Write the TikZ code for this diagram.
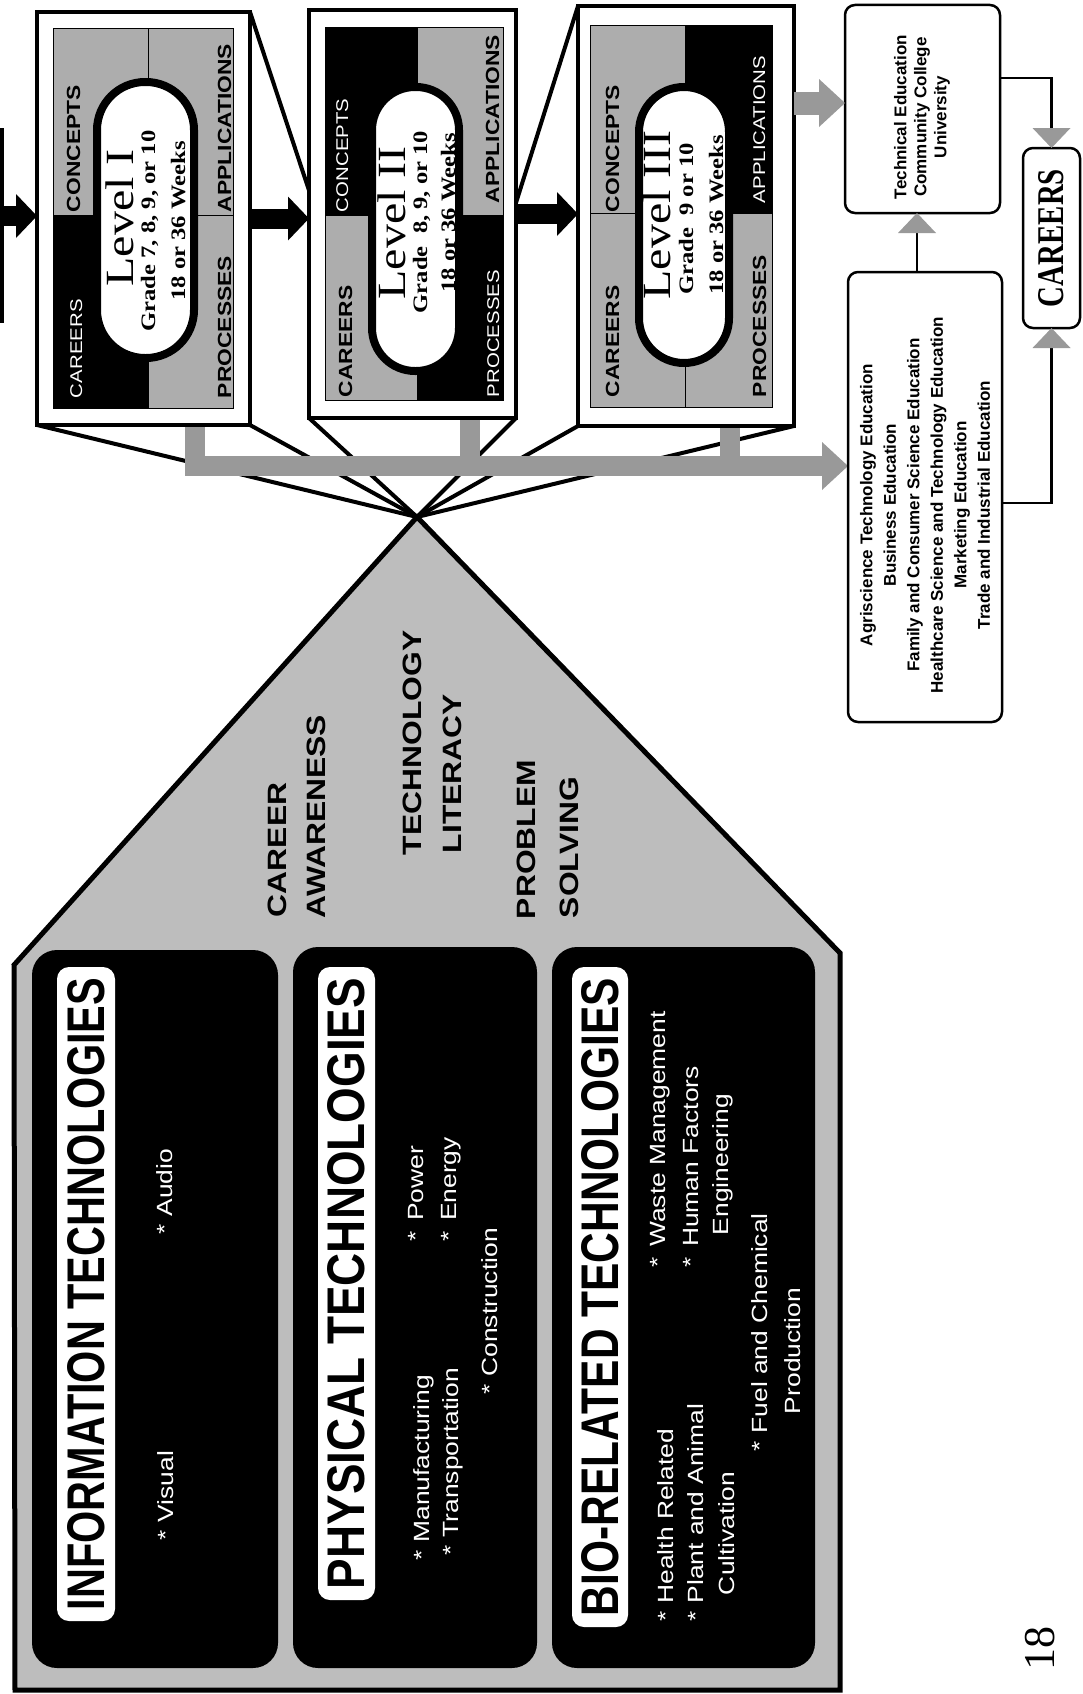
\documentclass[tikz,border=0pt]{standalone}
\usepackage{fontspec}
\usepackage{graphicx}
\usetikzlibrary{arrows.meta,calc}
\pgfdeclarelayer{pentlayer}
\pgfdeclarelayer{linelayer}
\pgfdeclarelayer{striplayer}
\pgfsetlayers{pentlayer,linelayer,striplayer,main}
\newfontfamily\hv[FakeStretch=1.2]{Liberation Sans}
\newfontfamily\tm[FakeStretch=1.2]{Liberation Serif}
\newfontfamily\hvp{Liberation Sans}
\newfontfamily\tmp{Liberation Serif}
\definecolor{pentgray}{gray}{0.74}
\definecolor{quadgray}{gray}{0.68}
\definecolor{stripgray}{gray}{0.6}

\begin{document}
\begin{tikzpicture}[x=1pt,y=-1pt,
  frame/.style={draw, line width=4.5pt, fill=white, inner sep=0pt, outer sep=0pt},
  persp/.style={line width=4pt},
  quadg/.style={fill=quadgray, draw=black, line width=0.8pt},
  quadb/.style={fill=black, draw=black, line width=0.8pt},
  pill/.style={draw=black, fill=white, line width=8pt},
  vtxt/.style={rotate=90, inner sep=0pt, outer sep=0pt},
  qbold/.style={vtxt, anchor=base west, font=\hv\bfseries\fontsize{19}{19}\selectfont},
  qreg/.style={vtxt, anchor=base west, text=white, font=\hv\fontsize{17}{17}\selectfont},
  lvl/.style={vtxt, anchor=base, font=\tm\fontsize{40}{40}\selectfont},
  lvlsub/.style={vtxt, anchor=base, font=\tm\bfseries\fontsize{20.5}{20.5}\selectfont},
  bigarrow/.style={line width=20pt, -{Triangle[width=44pt,length=21pt,line width=0pt]}},
  stripline/.style={draw=stripgray, line width=20pt},
  greyarrow/.style={draw=stripgray, -{Triangle[width=48pt,length=26pt,line width=0pt,color=stripgray]}},
  conn/.style={line width=2.2pt, -{Triangle[width=38pt,length=20pt,line width=0pt,color=stripgray]}},
  rbox/.style={draw, line width=2.5pt, rounded corners=10pt, fill=white, inner sep=0pt, outer sep=0pt},
  item/.style={vtxt, anchor=base west, text=white, font=\hv\fontsize{22}{22}\selectfont},
  theme/.style={vtxt, anchor=base west, font=\hv\bfseries\fontsize{26.5}{26.5}\selectfont},
  sidetxt/.style={vtxt, align=center, font=\hvp\bfseries\fontsize{17}{20}\selectfont},
]
\useasboundingbox (0,0) rectangle (1083,1694);
\coordinate (apex) at (417,517);

% ---------- the three course levels ----------
\node[frame, minimum width=213pt, minimum height=413pt] (L1) at (143.5,218.5) {};
\node[frame, minimum width=207pt, minimum height=408pt] (L2) at (412.5,214) {};
\node[frame, minimum width=216pt, minimum height=420pt] (L3) at (686,216) {};

% ---------- follow-on boxes ----------
\node[rbox, minimum width=155pt, minimum height=208pt] (tech) at (922.5,109) {};
\node[rbox, minimum width=154pt, minimum height=450pt] (agri) at (925,497) {};
\node[rbox, minimum width=57pt, minimum height=180pt] (car) at (1051.5,238) {};

% ---------- base shape ----------
\begin{pgfonlayer}{pentlayer}
  \fill[white] (0,0) rectangle (1083,1694);
  \filldraw[fill=pentgray, line width=5pt, line join=miter]
    (apex) -- (840,953) -- (840,1690) -- (15,1690) -- (14,965) -- cycle;
\end{pgfonlayer}

% ---------- perspective lines to the apex ----------
\begin{pgfonlayer}{linelayer}
  \draw[persp] (L1.south west) -- (apex);
  \draw[persp] (L1.south east) -- (apex);
  \draw[persp] (L1.north east) -- ($(L1.north east)!0.353!(apex)$);
  \draw[persp] (L2.south west) -- (apex);
  \draw[persp] (L2.south east) -- (apex);
  \draw[persp] (L3.south west) -- (apex);
  \draw[persp] (L3.south east) -- (apex);
  \draw[persp] (L3.north west) -- ($(L3.north west)!0.385!(apex)$);
\end{pgfonlayer}

% ---------- collecting band ----------
\begin{pgfonlayer}{striplayer}
  \coordinate (sj) at (185,466);
  \draw[stripline] ([xshift=51.5pt]L1.south) -- ++(0,51);
  \draw[stripline] ([xshift=57.5pt]L2.south) -- ++(0,58);
  \draw[stripline] ([xshift=44pt]L3.south) -- ++(0,50);
  \draw[greyarrow, line width=20pt] (sj) -- (sj -| agri.west);
\end{pgfonlayer}

% ---------- Level I ----------
\filldraw[quadg] (53,28) rectangle (148,215);
\filldraw[quadb] (53,215) rectangle (148,408);
\filldraw[quadg] (148,28) rectangle (233,215);
\filldraw[quadg] (148,215) rectangle (233,408);
\draw[pill, rounded corners=48pt] (97,82) rectangle (194,358);
\node[lvl] (l1a) at (133,218) {Level I};
\node[lvlsub] (l1b) at (155,231) {Grade 7, 8, 9, or 10};
\node[lvlsub] (l1c) at (185,221) {18 or 36 Weeks};
\node[qbold] (l1con) at (80,212) {CONCEPTS};
\node[qreg] (l1car) at (82,398) {CAREERS};
\node[qbold] (l1app) at (231,212) {APPLICATIONS};
\node[qbold] (l1pro) at (231,398) {PROCESSES};

% ---------- Level II ----------
\filldraw[quadb] (325,27) rectangle (417,215);
\filldraw[quadg] (325,215) rectangle (417,400);
\filldraw[quadg] (417,27) rectangle (503,215);
\filldraw[quadb] (417,215) rectangle (503,400);
\draw[pill, rounded corners=43pt] (372,87) rectangle (459,371);
\node[lvl] (l2a) at (405,223) {Level II};
\node[lvlsub] (l2b) at (427,222) {Grade~ 8, 9, or 10};
\node[lvlsub] (l2c) at (455,213) {18 or 36 Weeks};
\node[qreg] (l2con) at (348,212) {CONCEPTS};
\node[qbold] (l2car) at (352,397) {CAREERS};
\node[qbold] (l2app) at (499,203) {APPLICATIONS};
\node[qreg] (l2pro) at (499,397) {PROCESSES};

% ---------- Level III ----------
\filldraw[quadg] (590,25) rectangle (685,213);
\filldraw[quadg] (590,213) rectangle (685,407);
\filldraw[quadb] (685,25) rectangle (772,213);
\filldraw[quadg] (685,213) rectangle (772,407);
\draw[pill, rounded corners=45pt] (639,87) rectangle (729,363);
\node[lvl] (l3a) at (670,215) {Level III};
\node[lvlsub] (l3b) at (693,219) {Grade~ 9 or 10};
\node[lvlsub] (l3c) at (723,215) {18 or 36 Weeks};
\node[qbold] (l3con) at (619,212) {CONCEPTS};
\node[qbold] (l3car) at (619,397) {CAREERS};
\node[qreg] (l3app) at (765,203) {APPLICATIONS};
\node[qbold] (l3pro) at (766,397) {PROCESSES};

% ---------- arrows between levels ----------
\coordinate (lead) at (0,216);
\draw[line width=4pt] (1.5,128) -- (1.5,323);
\draw[bigarrow] (lead) -- (lead -| L1.west);
\draw[bigarrow] (L1.east) -- (L1.east -| L2.west);
\draw[bigarrow] (L2.east) -- (L2.east -| L3.west);

% ---------- technology clusters ----------
\fill[rounded corners=25pt] (32,950) rectangle (278,1668);
\fill[rounded corners=25pt] (293,947) rectangle (537,1668);
\fill[rounded corners=25pt] (552,947) rectangle (815,1668);
\fill[white, rounded corners=12pt] (57,967) rectangle (115,1621);
\fill[white, rounded corners=12pt] (318,967) rectangle (375,1600);
\fill[white, rounded corners=12pt] (572,967) rectangle (628,1627);
\node[vtxt] (infohd) at (86,1294) {\resizebox{632pt}{37pt}{\hvp\bfseries INFORMATION TECHNOLOGIES}};
\node[vtxt] (phyhd) at (346.5,1283.5) {\resizebox{611pt}{37pt}{\hvp\bfseries PHYSICAL TECHNOLOGIES}};
\node[vtxt] (biohd) at (600,1297) {\resizebox{638pt}{37pt}{\hvp\bfseries BIO-RELATED TECHNOLOGIES}};

\node[item] (iv) at (173,1540) {* Visual};
\node[item] (ia) at (172,1234) {* Audio};
\node[item] (pm) at (429,1560) {* Manufacturing};
\node[item] (pt) at (458,1555) {* Transportation};
\node[item] (pc) at (497,1394) {* Construction};
\node[item] (pp) at (423,1241) {*\hspace{10pt}Power};
\node[item] (pe) at (456,1241) {*\hspace{10pt}Energy};
\node[item] (bh) at (673,1621) {* Health Related};
\node[item] (bp) at (703,1621) {* Plant and Animal};
\node[item] (bc) at (734,1595) {Cultivation};
\node[item] (bf) at (767,1451) {* Fuel and Chemical};
\node[item] (bpr) at (800,1414) {Production};
\node[item] (bw) at (665,1267) {*\hspace{10pt}Waste Management};
\node[item] (bhf) at (698,1267) {*\hspace{10pt}Human Factors};
\node[item] (be) at (728,1235) {Engineering};

% ---------- themes ----------
\node[theme] (t1) at (286,917) {CAREER};
\node[theme] (t2) at (325,918) {AWARENESS};
\node[theme] (t3) at (421,855) {TECHNOLOGY};
\node[theme] (t4) at (461,853) {LITERACY};
\node[theme] (t5) at (535,919) {PROBLEM};
\node[theme] (t6) at (578,918) {SOLVING};

% ---------- follow-on texts and links ----------
\node[sidetxt] (techtxt) at (922,117) {Technical Education\\Community College\\University};
\node[sidetxt, font=\hvp\bfseries\fontsize{17}{23.5}\selectfont] (agritxt) at (925,505)
  {Agriscience Technology Education\\Business Education\\Family and Consumer Science Education\\Healthcare Science and Technology Education\\Marketing Education\\Trade and Industrial Education};
\node[vtxt] (cartxt) at (1051.5,238) {\resizebox{138pt}{25pt}{\tmp\bfseries CAREERS}};

\coordinate (gy) at (0,103);
\draw[greyarrow, line width=23pt] (L3.east |- gy) -- (tech.west |- gy);
\coordinate (vx) at (917,0);
\draw[conn] (agri.north -| vx) -- (tech.south -| vx);
\coordinate (ty) at (0,78);
\draw[conn] (tech.east |- ty) -| (car.north);
\coordinate (ay) at (0,503);
\draw[conn] (agri.east |- ay) -| (car.south);

\node[vtxt, font=\tmp\fontsize{44}{44}\selectfont] (pg) at (1040,1648) {18};
\end{tikzpicture}
\end{document}
